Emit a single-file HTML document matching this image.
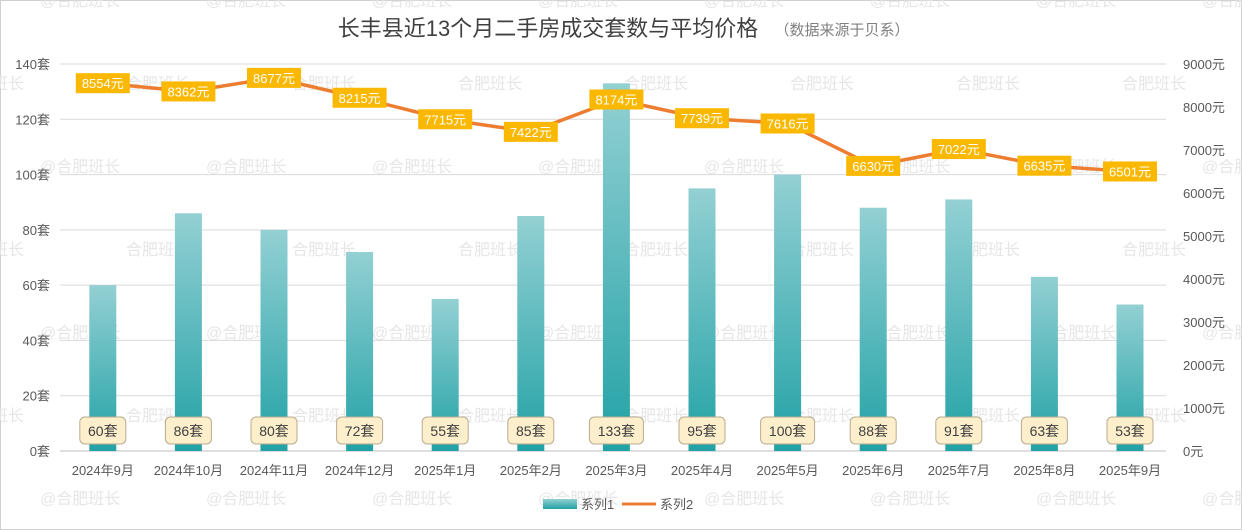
<!DOCTYPE html>
<html><head><meta charset="utf-8"><style>
body{margin:0;background:#fff;}
svg{display:block;font-family:"Liberation Sans","Noto Sans CJK SC",sans-serif;}
</style></head><body>
<svg id="c" width="1242" height="530">
<defs><linearGradient id="g" x1="0" y1="0" x2="0" y2="1"><stop offset="0" stop-color="#93d0d3"/><stop offset="1" stop-color="#22a2a6"/></linearGradient></defs>
<rect x="0.5" y="0.5" width="1241" height="529" fill="#fff" stroke="#d0d0d0"/>
<g id="wm"></g>
<text x="548" y="36" font-size="22" fill="#404040" text-anchor="middle">长丰县近13个月二手房成交套数与平均价格</text>
<text x="842" y="35" font-size="15" fill="#808080" text-anchor="middle">（数据来源于贝系）</text>
<g id="grid"></g><g id="bars"></g><g id="line"></g><g id="labels"></g>
<g>
<rect x="543" y="499" width="34" height="10" fill="url(#g)"/>
<text x="581" y="509" font-size="13" fill="#595959">系列1</text>
<line x1="622" y1="504" x2="656" y2="504" stroke="#ed7d31" stroke-width="3"/>
<text x="660" y="509" font-size="13" fill="#595959">系列2</text>
</g>
</svg>
<script>
const categories=["2024年9月","2024年10月","2024年11月","2024年12月","2025年1月","2025年2月","2025年3月","2025年4月","2025年5月","2025年6月","2025年7月","2025年8月","2025年9月"];
const counts=[60,86,80,72,55,85,133,95,100,88,91,63,53];
const prices=[8554,8362,8677,8215,7715,7422,8174,7739,7616,6630,7022,6635,6501];
const leftTicks=[0,20,40,60,80,100,120,140];
const rightTicks=[0,1000,2000,3000,4000,5000,6000,7000,8000,9000];
const NS="http://www.w3.org/2000/svg";
const L=60,STEP=85.6,Y0=451,H=387;
const xc=i=>L+STEP*(i+0.5);
const yL=v=>Y0-v/140*H;
const yR=v=>Y0-v/9000*H;
function mk(p,t,a,txt){const e=document.createElementNS(NS,t);for(const k in a)e.setAttribute(k,a[k]);if(txt!==undefined)e.textContent=txt;document.getElementById(p).appendChild(e);return e;}
// watermarks
for(let r=0;r<7;r++)for(let c=0;c<8;c++){
 const e=mk('wm','text',{x:(r%2?-40:40)+c*166,y:6+r*83,'font-size':16,fill:'#e6e6e6'},(r%2?'':'@')+'合肥班长');
 
 
}
leftTicks.forEach(v=>{
 const l=mk('grid','line',{x1:L,x2:1166,y1:yL(v),y2:yL(v),stroke:v?'#d9d9d9':'#bfbfbf'});
 
 
 const t=mk('grid','text',{x:50,y:yL(v)+5,'font-size':13,fill:'#595959','text-anchor':'end'},v+'套');
 
 
});
rightTicks.forEach(v=>{
 const t=mk('grid','text',{x:1183,y:yR(v)+5,'font-size':13,fill:'#595959'},v+'元');
 
 
});
categories.forEach((c,i)=>{
 const t=mk('grid','text',{x:xc(i),y:475,'font-size':13,fill:'#595959','text-anchor':'middle'},c);
 
 
});
counts.forEach((v,i)=>{
 const b=mk('bars','rect',{x:xc(i)-13.5,y:yL(v),width:27,height:Y0-yL(v),fill:'url(#g)'});
 
 
 const s=String(v)+'套',w=s.length*8+22;
 const r=mk('labels','rect',{x:xc(i)-w/2,y:417,width:w,height:27,rx:5,fill:'#fdefcb',stroke:'#b8ab92','stroke-width':1});
 
 
 const t=mk('labels','text',{x:xc(i),y:436,'font-size':14,fill:'#404040','text-anchor':'middle'},s);
 
 
});
const pl=mk('line','polyline',{points:prices.map((v,i)=>xc(i)+','+yR(v)).join(' '),fill:'none',stroke:'#ed7d31','stroke-width':3.5});


prices.forEach((v,i)=>{
 const r=mk('labels','rect',{x:xc(i)-27,y:yR(v)-10,width:54,height:20,fill:'#fbb800'});
 
 
 const t=mk('labels','text',{x:xc(i),y:yR(v)+5,'font-size':13,fill:'#fff','text-anchor':'middle'},v+'元');
 
 
});
</script>
</body></html>
